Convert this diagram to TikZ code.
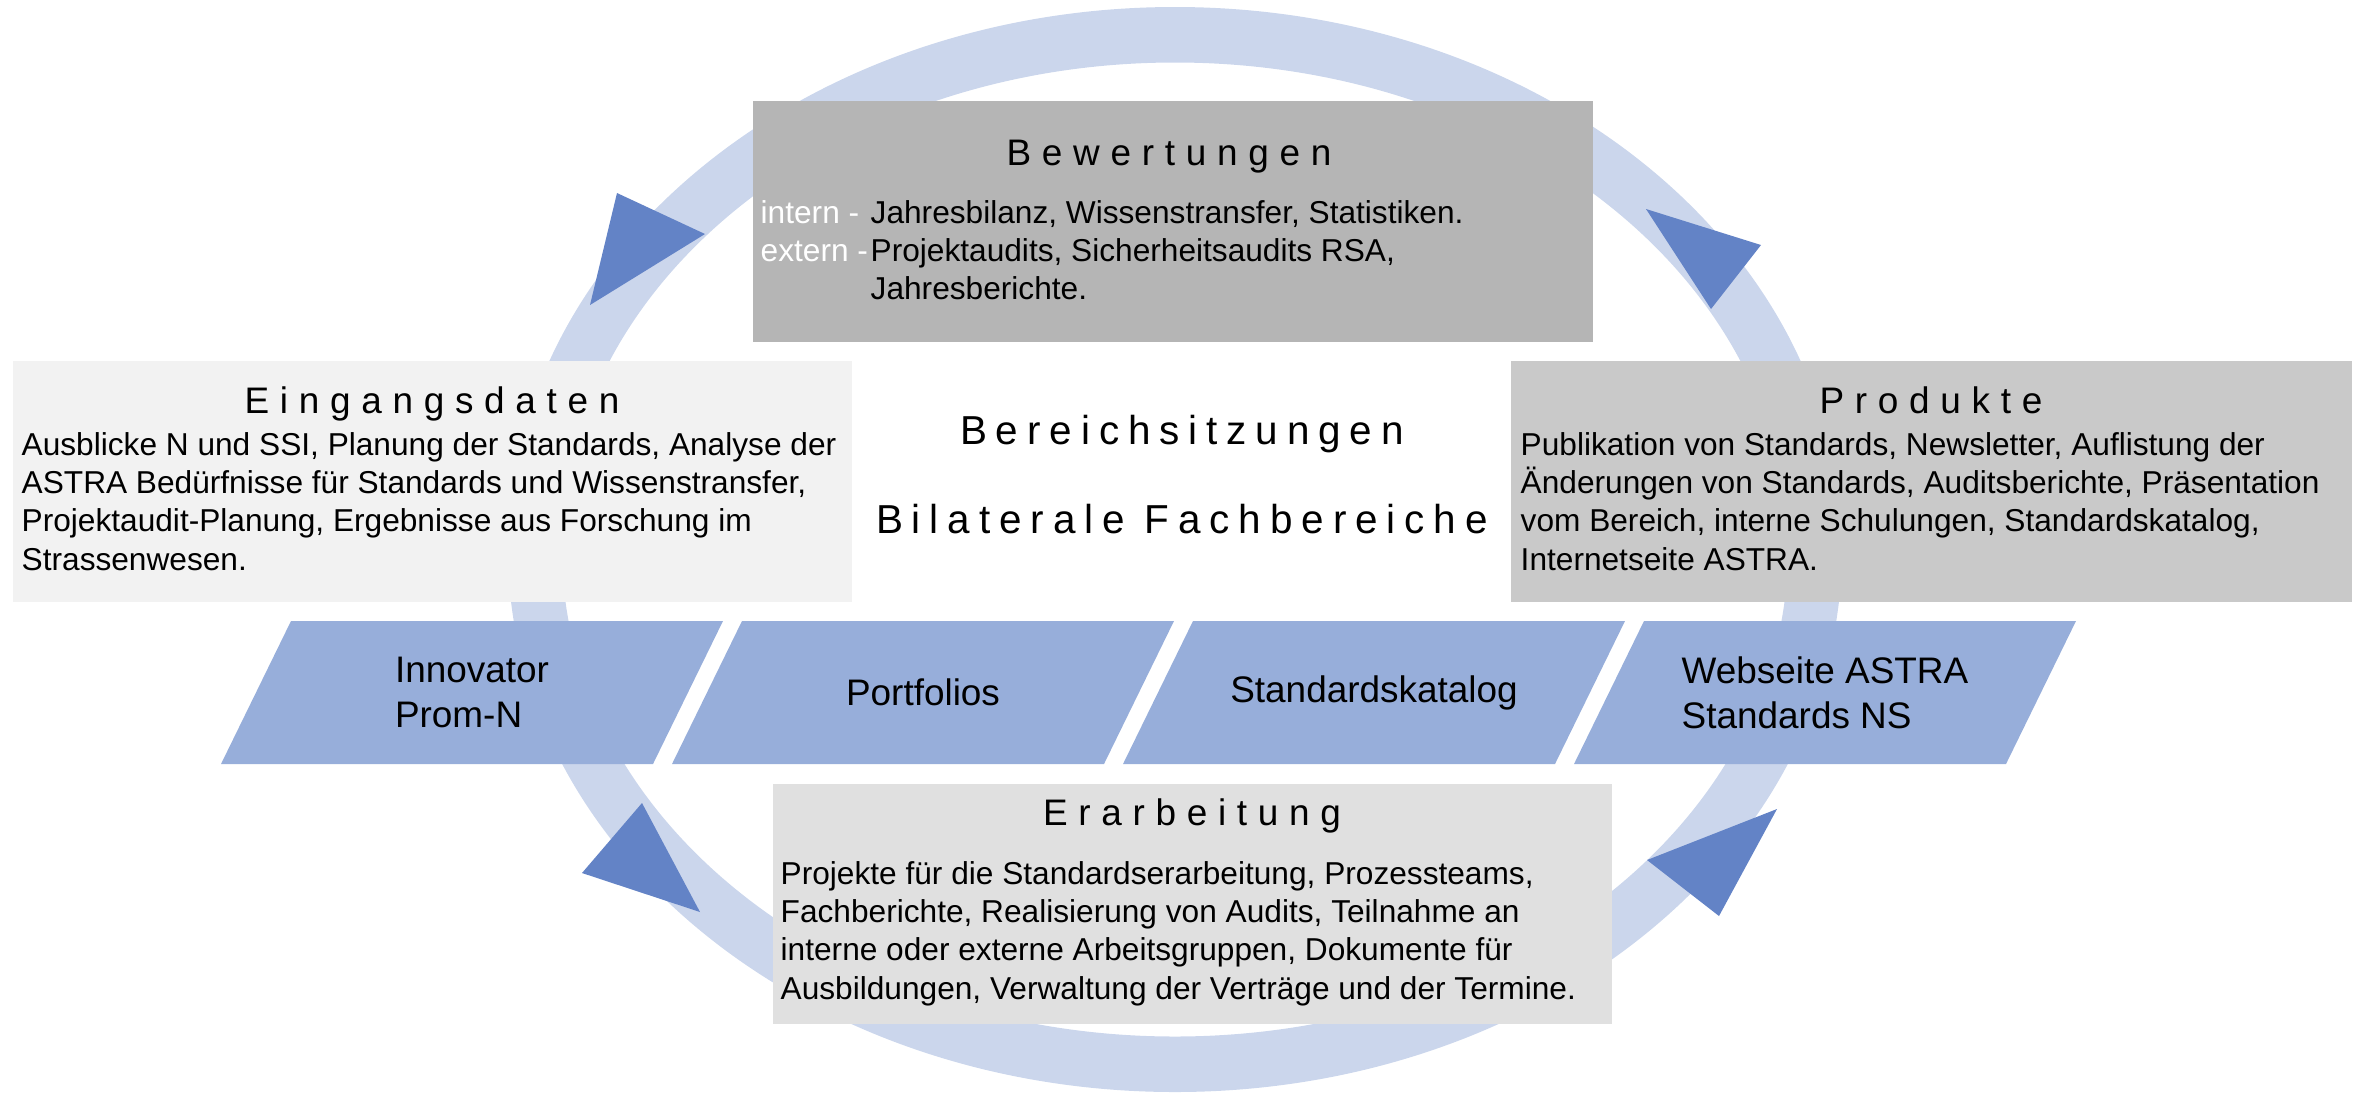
\documentclass[tikz,border=0pt]{standalone}
\usepackage{fontspec}
\setmainfont{Liberation Sans}
\newfontfamily\titlefont[LetterSpace=29]{Liberation Sans}
\newfontfamily\midfont[LetterSpace=22]{Liberation Sans}

\definecolor{ringblue}{RGB}{203,214,236}
\definecolor{tipblue}{RGB}{99,131,198}
\definecolor{parablue}{RGB}{151,174,218}
\definecolor{bewgray}{RGB}{181,181,181}
\definecolor{einggray}{RGB}{242,242,242}
\definecolor{prodgray}{RGB}{201,201,201}
\definecolor{erargray}{RGB}{224,224,224}

% lines of a box text, baseline on the first line
\newcommand{\boxlines}[1]{\begin{tabular}[t]{@{}l@{}}#1\end{tabular}}

\tikzset{
  boxtitle/.style={anchor=base, inner sep=0pt, font=\titlefont\fontsize{10.5}{12.6}\selectfont},
  boxtext/.style={anchor=base west, inner sep=0pt, font=\fontsize{9}{10.9}\selectfont},
  midtext/.style={anchor=base, inner sep=0pt, font=\midfont\fontsize{11.5}{13.8}\selectfont},
  paratext/.style={inner sep=0pt, align=left, font=\fontsize{10.5}{12.8}\selectfont},
}

\begin{document}
\begin{tikzpicture}[x=0.01cm, y=-0.01cm]
	\useasboundingbox (0,0) rectangle (2363,1093);

	% ring
	\fill[ringblue, even odd rule] (1175,549.5) ellipse [x radius=667, y radius=542.5]
	      (1175,549.5) ellipse [x radius=613, y radius=487];

	% arrow tips on the ring
	\foreach \ax/\ay/\bx/\by/\cx/\cy in {617/193/705/234/590/305, 1646/209/1761/245/1711/309,
	    1777/809/1719/916/1647/860, 642/803/700/912/582/873}{
	  \fill[tipblue] (\ax,\ay) -- (\bx,\by) -- (\cx,\cy) -- cycle;
	}

	% boxes
	\fill[bewgray] (753,101) rectangle (1593,342);
	\fill[einggray] (13,361) rectangle (852,602);
	\fill[prodgray] (1511,361) rectangle (2352,602);
	\fill[erargray] (773,784) rectangle (1612,1024);

	\node[boxtitle] (bewtitle) at (1169,165) {Bewertungen};
	\node[boxtext, white] (bewlab) at (760,223) {\boxlines{intern -\\extern -}};
	\node[boxtext] (bewtext) at (870,223) {\boxlines{Jahresbilanz, Wissenstransfer, Statistiken.\\
	    Projektaudits, Sicherheitsaudits RSA,\\Jahresberichte.}};

	\node[boxtitle] (eingtitle) at (432,413) {Eingangsdaten};
	\node[boxtext] (eingtext) at (21,455) {\boxlines{Ausblicke N und SSI, Planung der Standards, Analyse der\\
	    ASTRA Bedürfnisse für Standards und Wissenstransfer,\\
	    Projektaudit-Planung, Ergebnisse aus Forschung im\\Strassenwesen.}};

	\node[boxtitle] (prodtitle) at (1931,413) {Produkte};
	\node[boxtext] (prodtext) at (1520,455) {\boxlines{Publikation von Standards, Newsletter, Auflistung der\\
	    Änderungen von Standards, Auditsberichte, Präsentation\\
	    vom Bereich, interne Schulungen, Standardskatalog,\\Internetseite ASTRA.}};

	\node[boxtitle] (erartitle) at (1192,825) {Erarbeitung};
	\node[boxtext] (erartext) at (780,884) {\boxlines{Projekte für die Standardserarbeitung, Prozessteams,\\
	    Fachberichte, Realisierung von Audits, Teilnahme an\\
	    interne oder externe Arbeitsgruppen, Dokumente für\\
	    Ausbildungen, Verwaltung der Verträge und der Termine.}};

	% middle
	\node[midtext] (sitzung) at (1182,444) {Bereichsitzungen};
	\node[midtext] (bilateral) at (1182,533) {Bilaterale Fachbereiche};

	% parallelograms
	\foreach \x/\txt [count=\i] in {221/{Innovator\\Prom-N}, 672/{Portfolios},
	    1123/{Standardskatalog}, 1574/{Webseite ASTRA\\Standards NS}}{
	  \fill[parablue] (\x,764) -- (\x+432,764) -- (\x+502,621) -- (\x+70,621) -- cycle;
	  \node[paratext] (para\i) at (\x+251,692.5) {\txt};
	}
\end{tikzpicture}
\end{document}
